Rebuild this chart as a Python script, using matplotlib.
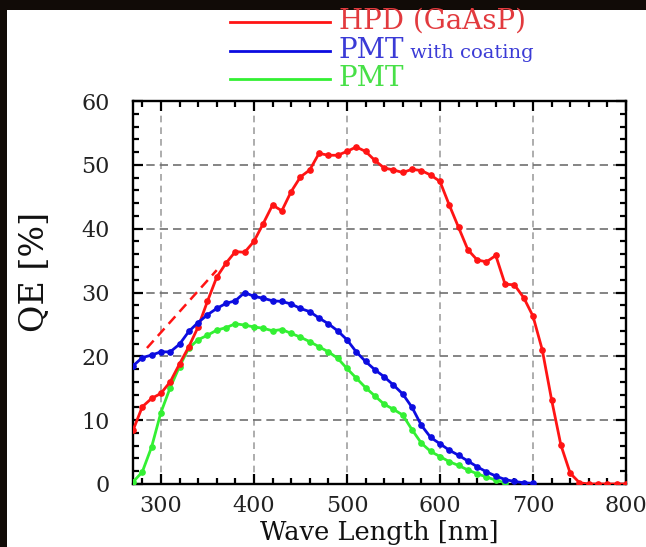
import matplotlib
matplotlib.use("Agg")
import matplotlib.pyplot as plt
from matplotlib.lines import Line2D
from matplotlib.patches import Rectangle
from matplotlib.ticker import MultipleLocator

# ---- data (10 nm steps) ----
wl_hpd = list(range(270, 801, 10))
qe_hpd = [8.4, 12.1, 13.4, 14.2, 16.0, 18.8, 21.5, 24.6, 28.6, 32.4,
          34.6, 36.4, 36.3, 38.0, 40.8, 43.7, 42.8, 45.8, 48.1, 49.2,
          51.8, 51.5, 51.5, 52.1, 52.8, 52.1, 50.7, 49.5, 49.2, 48.8,
          49.3, 49.1, 48.4, 47.4, 43.7, 40.2, 36.7, 35.1, 34.8, 35.8,
          31.3, 31.2, 29.2, 26.3, 21.0, 13.2, 6.1, 1.7, 0.2, 0.0,
          0.0, 0.0, 0.0, 0.0]

wl_coat = list(range(270, 701, 10))
qe_coat = [18.5, 19.8, 20.2, 20.7, 20.7, 21.9, 23.9, 25.3, 26.5, 27.5,
           28.3, 28.7, 30.0, 29.4, 29.1, 28.7, 28.6, 28.2, 27.5, 27.0,
           26.0, 25.1, 24.0, 22.6, 20.7, 19.2, 17.9, 16.8, 15.5, 14.1,
           12.0, 9.2, 7.3, 6.3, 5.3, 4.5, 3.6, 2.7, 1.9, 1.25,
           0.7, 0.4, 0.2, 0.1]

wl_pmt = list(range(270, 671, 10))
qe_pmt = [0.3, 1.9, 5.8, 11.2, 15.1, 18.4, 21.3, 22.6, 23.3, 24.1,
          24.5, 25.1, 24.9, 24.6, 24.4, 24.0, 24.2, 23.6, 23.0, 22.3,
          21.5, 20.7, 19.7, 18.1, 16.6, 15.1, 13.8, 12.5, 11.7, 10.8,
          8.5, 6.4, 5.1, 4.3, 3.5, 2.9, 2.2, 1.6, 1.1, 0.6, 0.2]

# extrapolation of HPD towards the UV (dashed)
wl_extra = [285, 360]
qe_extra = [21.3, 33.5]

labels = ["HPD (GaAsP)", "PMT", "PMT"]
small_part = " with coating"

RED = "#ff1414"
BLUE = "#0c0ce0"
GREEN = "#33f033"

plt.rcParams["font.family"] = ["DejaVu Serif"]

fig = plt.figure(figsize=(6.46, 5.47), dpi=100)
fig.patch.set_facecolor("#110b07")
# white slide area (behind everything)
fig.patches.append(Rectangle((7/646, 0), 1, 1 - 10/547, transform=fig.transFigure,
                             facecolor="white", edgecolor="none", zorder=-5))

ax = fig.add_axes([133/646, 1 - 484/547, 493/646, 383/547])
ax.set_zorder(2)
ax.set_facecolor("white")

ax.plot(wl_pmt, qe_pmt, color=GREEN, lw=2.0, marker="o", ms=3.8, zorder=3)
ax.plot(wl_hpd, qe_hpd, color=RED, lw=2.0, marker="o", ms=3.8, zorder=4)
ax.plot(wl_coat, qe_coat, color=BLUE, lw=2.0, marker="o", ms=3.8, zorder=5)
ax.plot(wl_extra, qe_extra, color=RED, lw=1.8, dashes=(4, 2.5), zorder=4)

ax.set_xlim(270, 800)
ax.set_ylim(0, 60)
ax.xaxis.set_major_locator(MultipleLocator(100))
ax.xaxis.set_minor_locator(MultipleLocator(20))
ax.yaxis.set_major_locator(MultipleLocator(10))
ax.yaxis.set_minor_locator(MultipleLocator(2))

ax.grid(axis="y", which="major", color="#707070", lw=1.2, dashes=(5, 3))
ax.grid(axis="x", which="major", color="#a0a0a0", lw=1.2, dashes=(4, 3))
ax.set_axisbelow(True)

for s in ax.spines.values():
    s.set_linewidth(1.7)
ax.tick_params(which="both", direction="in", top=True, right=True, width=1.6)
ax.tick_params(which="major", length=7)
ax.tick_params(which="minor", length=4)
ax.tick_params(axis="x", which="major", labelsize=16, pad=8)
ax.tick_params(axis="y", which="major", labelsize=16, pad=17)
for t in ax.get_xticklabels() + ax.get_yticklabels():
    t.set_color("#222222")

fig.text(35/646, 1 - 272/547, "QE [%]", rotation=90, ha="center", va="center",
         fontsize=24, color="#111111")
fig.text(379/646, 1 - 540/547, "Wave Length [nm]", ha="center", va="baseline",
         fontsize=18.5, color="#111111")

# legend drawn above the axes
rows = [22, 51, 79]
cols = [RED, BLUE, GREEN]
txt_cols = ["#e23a3e", "#3b3bd6", "#47e047"]
for y, c, tc, lab in zip(rows, cols, txt_cols, labels):
    fy = 1 - y / 547
    fig.add_artist(Line2D([230/646, 330/646], [fy, fy], color=c, lw=2.0,
                          transform=fig.transFigure))
    base = fy - 7/547
    t = fig.text(339/646, base, lab, ha="left", va="baseline", fontsize=20, color=tc)
    if c == BLUE:
        fig.canvas.draw()
        bb = t.get_window_extent()
        fig.text(bb.x1 / fig.bbox.width, base, small_part, ha="left",
                 va="baseline", fontsize=14, color=tc)

fig.savefig("out.png", dpi=100, facecolor=fig.get_facecolor())
